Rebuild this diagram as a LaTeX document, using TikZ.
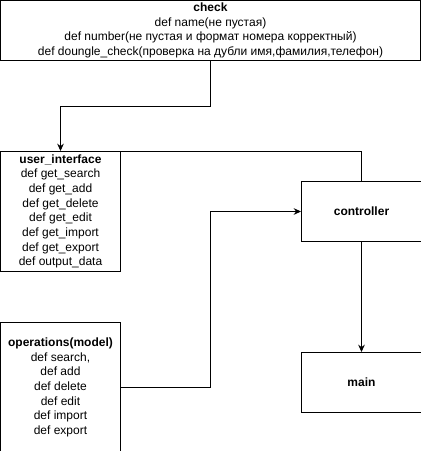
\documentclass[tikz,border=0pt]{standalone}
\usepackage{fontspec}
\setmainfont{Liberation Sans}
\usepackage{tikz}
\usetikzlibrary{arrows.meta,positioning}

\begin{document}
\begin{tikzpicture}[line width=0.75pt, >={Stealth[length=5.5pt,width=5pt]},
    box/.style={draw, rectangle, align=center, inner sep=0pt, font=\fontsize{9pt}{11pt}\selectfont}]
    \useasboundingbox (0,0) rectangle (315.75pt,-338.25pt);

    % check
    \node[box, anchor=north west, minimum width=315pt, minimum height=45pt] (check) at (0,0)
        {\textbf{check}\\def name(не пустая)\\def number(не пустая и формат номера корректный)\\def doungle\_check(проверка на дубли имя,фамилия,телефон)};

    % user interface
    \node[box, below=67.5pt of check.south west, anchor=north west, minimum width=90pt, minimum height=90pt] (ui)
        {\textbf{user\_interface}\\def get\_search\\def get\_add\\def get\_delete\\def get\_edit\\def get\_import\\def get\_export\\def output\_data};

    % controller and main
    \node[box, right=135pt of ui, minimum width=90pt, minimum height=45pt] (ctrl) {\textbf{controller}};
    \node[box, below=82.5pt of ctrl, minimum width=90pt, minimum height=45pt] (main) {\textbf{main}};

    % operations
    \node[box, below=37.5pt of ui, minimum width=90pt, minimum height=97.5pt] (ops)
        {\textbf{operations(model)}\\def search,\\def add\\def delete\\def edit\\def import\\def export};

    \draw[->] (check.south) -- ++(0,-33.75pt) -| (ui.north);
    \draw (ui.north east) -| (ctrl.north);
    \draw[->] (ops.east) -| (check.south |- ctrl.west) -- (ctrl.west);
    \draw[->] (ctrl) -- (main);

\end{tikzpicture}
\end{document}
